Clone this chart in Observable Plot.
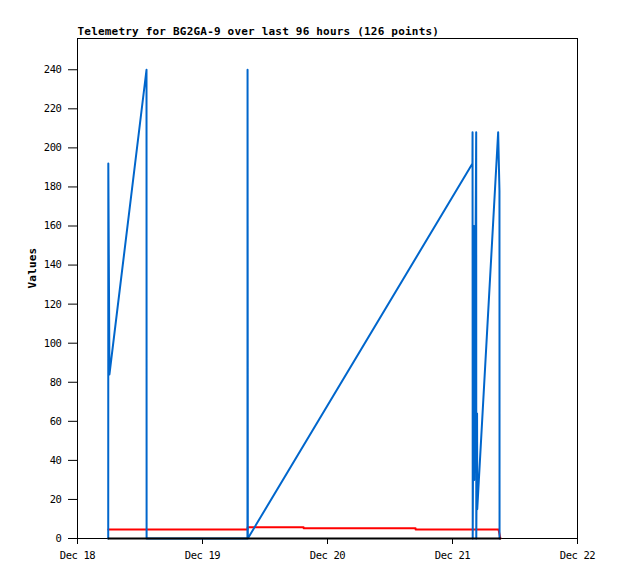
<!DOCTYPE html>
<html>
<head>
<meta charset="utf-8">
<script src="https://cdn.jsdelivr.net/npm/d3@7"></script>
<script src="https://cdn.jsdelivr.net/npm/@observablehq/plot@0.6"></script>
<style>
  html, body { margin: 0; padding: 0; background: white; }
</style>
</head>
<body>
<div id="chart"></div>
<script>
const titleText = "Telemetry for BG2GA-9 over last 96 hours (126 points)";
const yLabelText = "Values";

const blueTimes = [
  "2024-12-18T05:54Z", "2024-12-18T05:55Z", "2024-12-18T06:08Z",
  "2024-12-18T13:15Z", "2024-12-18T13:16Z",
  "2024-12-19T08:38Z", "2024-12-19T08:39Z", "2024-12-19T08:40Z", "2024-12-19T08:42Z",
  "2024-12-21T03:50Z", "2024-12-21T03:51Z", "2024-12-21T03:53Z",
  "2024-12-21T04:08Z", "2024-12-21T04:10Z",
  "2024-12-21T04:33Z", "2024-12-21T04:34Z",
  "2024-12-21T04:43Z", "2024-12-21T04:45Z",
  "2024-12-21T08:46Z", "2024-12-21T09:01Z", "2024-12-21T09:02Z"
];
const blueValues = [
  0, 192, 84,
  240, 0,
  0, 240, 160, 0,
  192, 208, 0,
  160, 30,
  208, 0,
  64, 15,
  208, 178, 0
];

const redTimes = [
  "2024-12-18T05:55Z", "2024-12-19T08:39Z", "2024-12-19T08:40Z",
  "2024-12-19T19:24Z", "2024-12-19T19:25Z",
  "2024-12-20T16:54Z", "2024-12-20T16:55Z",
  "2024-12-21T08:50Z", "2024-12-21T09:12Z"
];
const redValues = [4.6, 4.6, 5.8, 5.8, 5.3, 5.3, 4.6, 4.6, 0];

const blackTimes = ["2024-12-18T05:54Z", "2024-12-21T09:12Z"];
const blackValues = [0, 0];

const xTicks = ["2024-12-18T00:00Z", "2024-12-19T00:00Z", "2024-12-20T00:00Z", "2024-12-21T00:00Z", "2024-12-22T00:00Z"];
const yTicks = [0, 20, 40, 60, 80, 100, 120, 140, 160, 180, 200, 220, 240];

const toRows = (ts, vs) => ts.map((t, i) => ({t: new Date(t), v: vs[i]}));
const blue = toRows(blueTimes, blueValues);
const red = toRows(redTimes, redValues);
const black = toRows(blackTimes, blackValues);

const chart = Plot.plot({
  width: 618,
  height: 579,
  marginLeft: 77,
  marginRight: 41,
  marginTop: 38,
  marginBottom: 41,
  style: {fontFamily: "'DejaVu Sans Mono', monospace", fontSize: "10.5px", background: "white", color: "black", letterSpacing: "-0.4px"},
  x: {
    type: "utc",
    domain: [new Date(xTicks[0]), new Date(xTicks[xTicks.length - 1])],
    ticks: xTicks.map(d => new Date(d)),
    tickFormat: d3.utcFormat("%b %d"),
    tickSize: 6,
    tickPadding: 7,
    label: null
  },
  y: {
    domain: [0, 256],
    ticks: yTicks,
    tickSize: 9,
    tickPadding: 7,
    label: null
  },
  marks: [
    Plot.frame({stroke: "black", strokeWidth: 1}),
    Plot.line(red, {x: "t", y: "v", stroke: "#ff0000", strokeWidth: 2}),
    Plot.line(blue, {x: "t", y: "v", stroke: "#0066cc", strokeWidth: 2}),
    Plot.line(black, {x: "t", y: "v", stroke: "black", strokeWidth: 2}),
    Plot.text([titleText], {frameAnchor: "top-left", text: d => d, textAnchor: "start", lineAnchor: "middle", dy: -7, fontWeight: "bold", fontSize: 11}),
    Plot.text([yLabelText], {frameAnchor: "left", text: d => d, rotate: -90, dx: -45, fontWeight: "bold", fontSize: 11})
  ]
});
d3.select(chart).selectAll('g[aria-label="text"] text').style("letter-spacing", "0.2px");
document.getElementById("chart").appendChild(chart);
</script>
</body>
</html>
